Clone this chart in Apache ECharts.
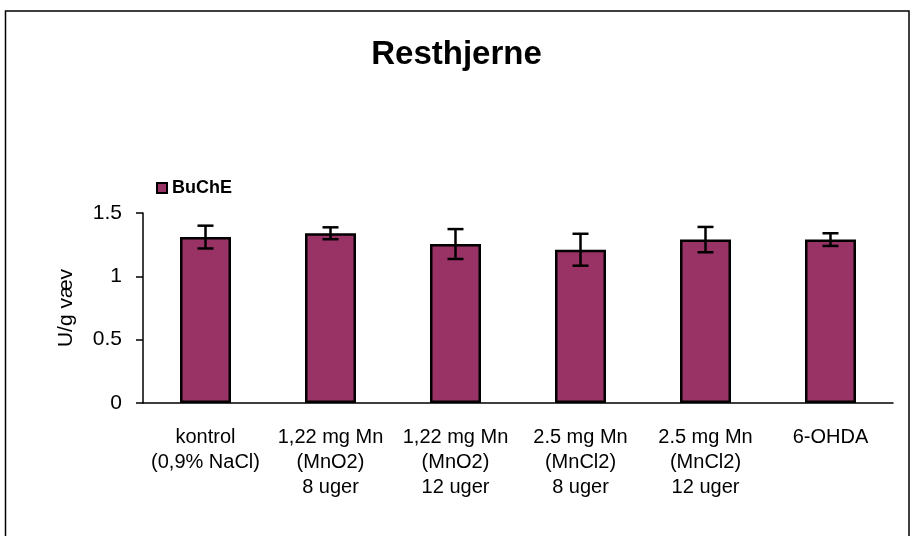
<!DOCTYPE html>
<html>
<head>
<meta charset="utf-8">
<script src="https://cdn.jsdelivr.net/npm/echarts@6/dist/echarts.min.js"></script>
<style>
  html, body { margin: 0; padding: 0; background: #fff; }
  #chart { width: 913px; height: 536px; }
</style>
</head>
<body>
<div id="chart"></div>
<script>
// data
const categories = [
  'kontrol\n(0,9% NaCl)',
  '1,22 mg Mn\n(MnO2)\n8 uger',
  '1,22 mg Mn\n(MnO2)\n12 uger',
  '2.5 mg Mn\n(MnCl2)\n8 uger',
  '2.5 mg Mn\n(MnCl2)\n12 uger',
  '6-OHDA'
];
const buche = [1.31, 1.34, 1.255, 1.21, 1.29, 1.29];
const bucheErr = [0.09, 0.047, 0.118, 0.126, 0.10, 0.05];
const yTicks = { min: 0, max: 1.5, interval: 0.5 };

const chart = echarts.init(document.getElementById('chart'));

const font = '"Liberation Sans", Arial, sans-serif';

// error bar data: [index, low, high]
const errData = buche.map((v, i) => [i, v - bucheErr[i], v + bucheErr[i]]);

function renderErr(params, api) {
  const x = api.value(0);
  const lo = api.coord([x, api.value(1)]);
  const hi = api.coord([x, api.value(2)]);
  const half = 8;
  const style = { stroke: '#000', lineWidth: 2.5 };
  return {
    type: 'group',
    children: [
      { type: 'line', shape: { x1: hi[0], y1: hi[1], x2: lo[0], y2: lo[1] }, style },
      { type: 'line', shape: { x1: hi[0] - half, y1: hi[1], x2: hi[0] + half, y2: hi[1] }, style },
      { type: 'line', shape: { x1: lo[0] - half, y1: lo[1], x2: lo[0] + half, y2: lo[1] }, style }
    ]
  };
}

const option = {
  backgroundColor: '#fff',
  animation: false,
  textStyle: { fontFamily: font },
  title: {
    text: 'Resthjerne',
    left: 'center',
    top: 33,
    textStyle: { fontFamily: font, fontSize: 33, fontWeight: 'bold', color: '#000' }
  },
  legend: {
    data: ['BuChE'],
    left: 151,
    top: 174,
    icon: 'rect',
    itemWidth: 10,
    itemHeight: 10,
    itemGap: 6,
    itemStyle: { color: '#993366', borderColor: '#000', borderWidth: 2 },
    textStyle: { fontFamily: font, fontSize: 18, fontWeight: 'bold', color: '#000', padding: [0, 0, 0, 0] }
  },
  graphic: [{
    type: 'rect',
    shape: { x: 5.5, y: 11, width: 903.5, height: 540 },
    style: { fill: 'none', stroke: '#000', lineWidth: 1.5 },
    silent: true
  }],
  grid: { left: 143, right: 20, top: 213, bottom: 133 },
  xAxis: {
    type: 'category',
    data: categories,
    axisLine: { lineStyle: { color: '#000', width: 1.5 } },
    axisTick: { show: false },
    axisLabel: {
      interval: 0,
      margin: 22,
      color: '#000',
      fontFamily: font,
      fontSize: 20,
      lineHeight: 25,
      align: 'center'
    }
  },
  yAxis: {
    type: 'value',
    min: yTicks.min,
    max: yTicks.max,
    interval: yTicks.interval,
    name: 'U/g væv',
    nameLocation: 'middle',
    nameGap: 66,
    nameTextStyle: { fontFamily: font, fontSize: 21, color: '#000' },
    axisLine: { show: true, lineStyle: { color: '#000', width: 1.5 } },
    axisTick: { show: true, length: 7, lineStyle: { color: '#000', width: 1.5 } },
    splitLine: { show: false },
    axisLabel: { color: '#000', fontFamily: font, fontSize: 21, margin: 21 }
  },
  series: [
    {
      name: 'BuChE',
      type: 'bar',
      data: buche,
      barWidth: 51,
      itemStyle: { color: '#993366', borderColor: '#000', borderWidth: 2.5 }
    },
    {
      name: 'err',
      type: 'custom',
      data: errData,
      renderItem: renderErr,
      encode: { x: 0, y: [1, 2] },
      z: 10
    }
  ]
};

chart.setOption(option);
</script>
</body>
</html>
